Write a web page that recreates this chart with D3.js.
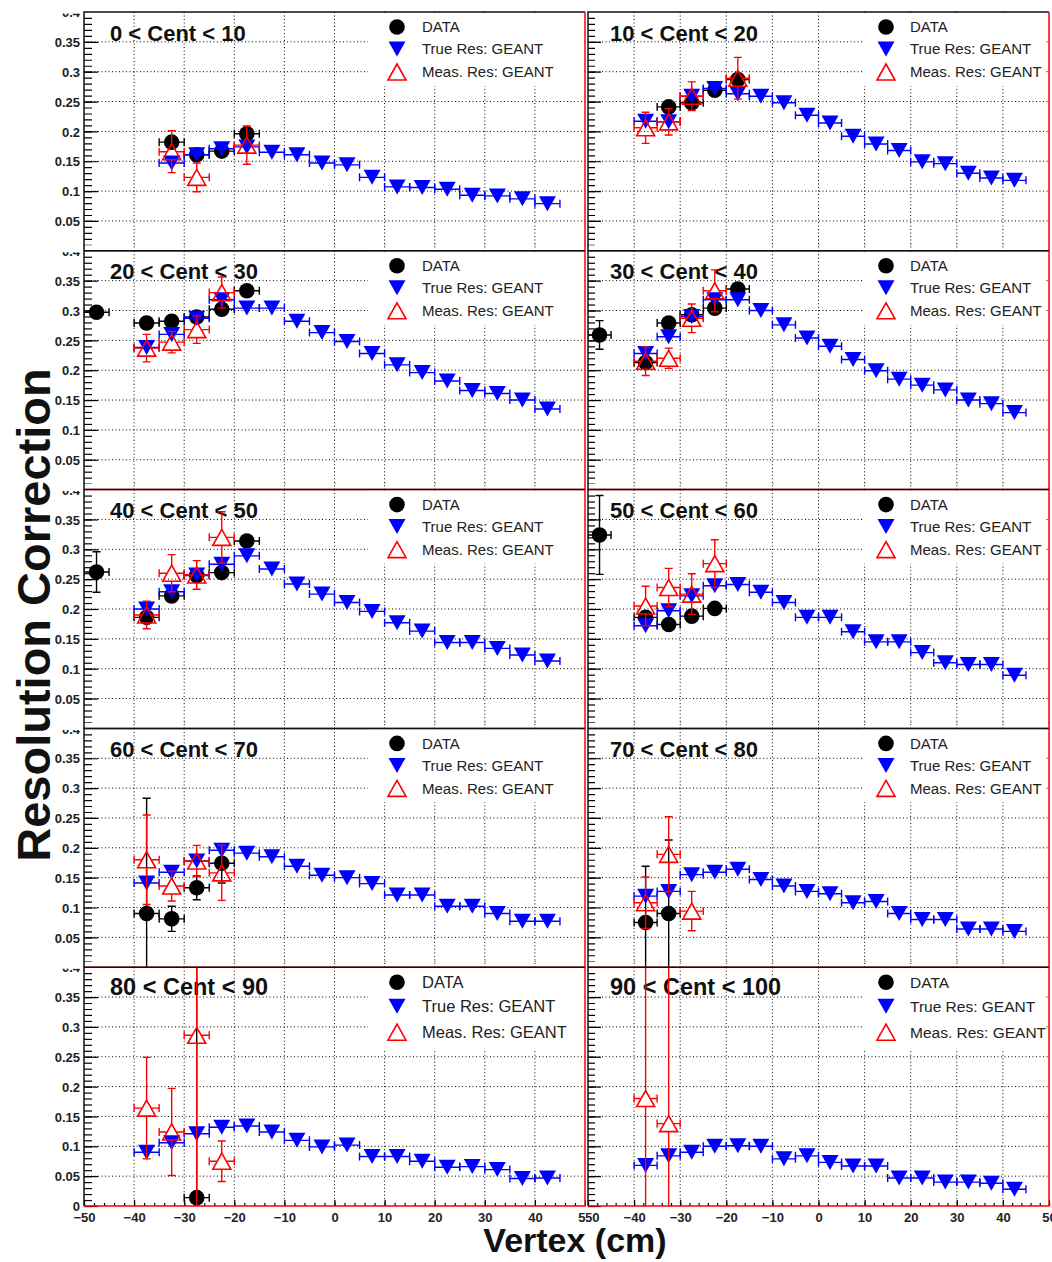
<!DOCTYPE html>
<html>
<head>
<meta charset="utf-8">
<script src="https://cdn.jsdelivr.net/npm/d3@7"></script>
<style>
body { margin: 0; background: #fff; }
text { font-family: "Liberation Sans", Arial, Helvetica, sans-serif; }
</style>
</head>
<body>
<div id="canvas"></div>
<script>
// centrality classes, one pad each
var centLabels = ["0 < Cent < 10", "10 < Cent < 20", "20 < Cent < 30", "30 < Cent < 40",
                  "40 < Cent < 50", "50 < Cent < 60", "60 < Cent < 70", "70 < Cent < 80",
                  "80 < Cent < 90", "90 < Cent < 100"];
var legendLabels = ["DATA", "True Res: GEANT", "Meas. Res: GEANT"];

// vertex bins (cm)
var binX  = [-37.5, -32.5, -27.5, -22.5, -17.5, -12.5, -7.5, -2.5, 2.5, 7.5, 12.5, 17.5, 22.5, 27.5, 32.5, 37.5, 42.5];
var dataX = [-47.5, -37.5, -32.5, -27.5, -22.5, -17.5];
var measX = [-37.5, -32.5, -27.5, -22.5, -17.5];
var binHalf = 2.5;

// True Res: GEANT
var trueRes = [
  [null, 0.147, 0.161, 0.171, 0.174, 0.165, 0.161, 0.147, 0.144, 0.123, 0.107, 0.106, 0.103, 0.093, 0.092, 0.087, 0.079],
  [0.217, 0.216, 0.259, 0.272, 0.263, 0.259, 0.248, 0.227, 0.214, 0.192, 0.179, 0.168, 0.149, 0.146, 0.130, 0.122, 0.118],
  [0.238, 0.260, 0.287, 0.318, 0.304, 0.304, 0.282, 0.263, 0.248, 0.228, 0.209, 0.196, 0.182, 0.166, 0.161, 0.150, 0.135],
  [0.228, 0.256, 0.290, 0.318, 0.318, 0.300, 0.276, 0.254, 0.240, 0.218, 0.199, 0.185, 0.175, 0.167, 0.150, 0.144, 0.129],
  [0.200, 0.229, 0.257, 0.275, 0.289, 0.267, 0.242, 0.225, 0.211, 0.196, 0.177, 0.163, 0.144, 0.144, 0.134, 0.123, 0.113],
  [0.172, 0.197, 0.222, 0.239, 0.241, 0.228, 0.211, 0.186, 0.186, 0.162, 0.145, 0.145, 0.127, 0.110, 0.107, 0.107, 0.089],
  [0.141, 0.159, 0.178, 0.196, 0.191, 0.185, 0.169, 0.154, 0.150, 0.140, 0.121, 0.121, 0.102, 0.102, 0.090, 0.077, 0.077],
  [0.119, 0.127, 0.155, 0.159, 0.164, 0.147, 0.136, 0.127, 0.123, 0.108, 0.110, 0.090, 0.080, 0.080, 0.064, 0.064, 0.060],
  [0.090, 0.106, 0.121, 0.132, 0.134, 0.124, 0.110, 0.099, 0.102, 0.083, 0.083, 0.075, 0.065, 0.066, 0.061, 0.046, 0.047],
  [0.068, 0.084, 0.090, 0.100, 0.101, 0.100, 0.079, 0.084, 0.073, 0.067, 0.067, 0.047, 0.047, 0.040, 0.040, 0.038, 0.028]
];

// DATA
var dataRes = [
  [null, null, 0.182, 0.161, 0.167, 0.196],
  [null, null, 0.241, 0.248, 0.269, 0.287],
  [0.297, 0.279, 0.282, 0.289, 0.302, 0.333],
  [0.259, 0.213, 0.279, 0.293, 0.304, 0.336],
  [0.262, 0.186, 0.222, 0.256, 0.261, 0.314],
  [0.324, 0.186, 0.174, 0.188, 0.201, null],
  [null, 0.090, 0.081, 0.133, 0.174, null],
  [null, 0.075, 0.090, null, null, null],
  [null, null, null, 0.014, null, null],
  [null, null, null, null, null, null]
];
var dataErr = [
  [null, null, 0.008, 0.006, 0.006, 0.010],
  [null, null, 0.008, 0.008, 0.008, 0.010],
  [0.010, 0.008, 0.008, 0.008, 0.010, 0.010],
  [0.024, 0.008, 0.008, 0.008, 0.010, 0.010],
  [0.034, 0.008, 0.008, 0.008, 0.008, 0.010],
  [0.066, 0.010, 0.008, 0.008, 0.008, null],
  [null, 0.193, 0.021, 0.020, 0.033, null],
  [null, 0.094, 0.123, null, null, null],
  [null, null, null, 0.400, null, null],
  [null, null, null, null, null, null]
];

// Meas. Res: GEANT
var measRes = [
  [null, 0.166, 0.123, null, 0.177],
  [0.206, 0.216, 0.259, null, 0.289],
  [0.237, 0.247, 0.268, 0.330, null],
  [0.215, 0.220, 0.287, 0.333, null],
  [0.190, 0.260, 0.257, 0.320, null],
  [0.205, 0.236, 0.225, 0.276, null],
  [0.180, 0.136, 0.178, 0.158, null],
  [0.108, 0.189, 0.094, null, null],
  [0.164, 0.124, 0.286, 0.075, null],
  [0.180, 0.138, null, null, null]
];
var measErr = [
  [null, 0.035, 0.024, null, 0.032],
  [0.026, 0.022, 0.024, null, 0.035],
  [0.023, 0.018, 0.023, 0.026, null],
  [0.024, 0.017, 0.024, 0.035, null],
  [0.023, 0.031, 0.024, 0.043, null],
  [0.033, 0.032, 0.034, 0.040, null],
  [0.075, 0.025, 0.026, 0.046, null],
  [0.043, 0.063, 0.033, null, null],
  [0.085, 0.073, 0.300, 0.034, null],
  [0.500, 0.500, null, null, null]
];

// axes
var xMajor = [-50, -40, -30, -20, -10, 0, 10, 20, 30, 40, 50];
var yMajor = [0, 0.05, 0.1, 0.15, 0.2, 0.25, 0.3, 0.35, 0.4];
var xGrid = [-40, -30, -20, -10, 0, 10, 20, 30, 40];
var yGrid = [0.05, 0.1, 0.15, 0.2, 0.25, 0.3, 0.35];

var W = 1052, H = 1262;
var frameTop = 12, rowH = 238.8;
var cols = [
  {x0: 84,  x1: 585, padL: 0,   padR: 586, tickY: 14, tickYm: 8, legBox: 284, legW: 214, legMark: 313, legText: 338, title: 26, legFont: 16.5},
  {x0: 588, x1: 1049, padL: 586, padR: W,  tickY: 13, tickYm: 7, legBox: 274, legW: 184, legMark: 298, legText: 322, title: 22, legFont: 15.5}
];
var blue = "#0000ff", red = "#ff0000";

var svg = d3.select("#canvas").append("svg")
  .attr("width", W).attr("height", H);
var defs = svg.append("defs");

var triDown = "M-8.5,-7.5L8.5,-7.5L0,7.5Z";
var triUp = "M-9,8L9,8L0,-8Z";

function drawMarker(g, kind, px, py) {
  if (kind === 0) {
    g.append("circle").attr("cx", px).attr("cy", py).attr("r", 7.8).attr("fill", "#000");
  } else if (kind === 1) {
    g.append("path").attr("d", triDown).attr("transform", "translate(" + px + "," + py + ")")
      .attr("fill", blue);
  } else {
    g.append("path").attr("d", triUp).attr("transform", "translate(" + px + "," + py + ")")
      .attr("fill", "none").attr("stroke", red).attr("stroke-width", 1.6);
  }
}

// error bars with end caps; gx/gy = gap left round the marker
function errBar(g, x, y, vx, vy, ey, color, gx, gy) {
  var px = x(vx), pL = x(vx - binHalf), pR = x(vx + binHalf), py = y(vy);
  var cap = 4;
  var d = "M" + pL + "," + py + "H" + (px - gx) + "M" + (px + gx) + "," + py + "H" + pR;
  d += "M" + pL + "," + (py - cap) + "V" + (py + cap) + "M" + pR + "," + (py - cap) + "V" + (py + cap);
  if (ey) {
    var pT = y(vy + ey), pB = y(vy - ey);
    if (py - pT > gy) d += "M" + px + "," + pT + "V" + (py - gy) + "M" + (px - cap) + "," + pT + "H" + (px + cap);
    if (pB - py > gy) d += "M" + px + "," + (py + gy) + "V" + pB + "M" + (px - cap) + "," + pB + "H" + (px + cap);
  }
  g.append("path").attr("d", d).attr("stroke", color).attr("stroke-width", 1.4).attr("fill", "none");
}

centLabels.forEach(function(label, i) {
  var row = Math.floor(i / 2), c = cols[i % 2];
  var top = frameTop + row * rowH, bot = top + rowH;
  var last = row === 4;
  var x = d3.scaleLinear().domain([-50, 50]).range([c.x0, c.x1]);
  var y = d3.scaleLinear().domain([0, 0.4]).range([bot, top]);
  var g = svg.append("g");

  defs.append("clipPath").attr("id", "fr" + i).append("rect")
    .attr("x", c.x0).attr("y", top).attr("width", c.x1 - c.x0).attr("height", bot - top);
  // pad area: hides the upper "0" label and most of "0.4" like the overlapping ROOT pads
  defs.append("clipPath").attr("id", "lb" + i).append("rect")
    .attr("x", c.padL).attr("y", top + 1.5).attr("width", c.padR - c.padL)
    .attr("height", last ? H - top : rowH - 7);
  defs.append("clipPath").attr("id", "pd" + i).append("rect")
    .attr("x", c.padL).attr("y", top).attr("width", c.padR - c.padL - 3).attr("height", rowH);

  // dotted grid
  var grid = g.append("g").attr("stroke", "#000").attr("stroke-width", 1)
    .attr("stroke-dasharray", "1,2.5");
  grid.selectAll(".gx").data(xGrid).enter().append("line")
    .attr("x1", function(d) { return x(d); }).attr("x2", function(d) { return x(d); })
    .attr("y1", top).attr("y2", bot);
  grid.selectAll(".gy").data(yGrid).enter().append("line")
    .attr("x1", c.x0).attr("x2", c.x1)
    .attr("y1", function(d) { return y(d); }).attr("y2", function(d) { return y(d); });

  // legend box hides the grid
  var legH = last ? 82 : 73;
  g.append("rect").attr("x", c.x0 + c.legBox).attr("y", top + 1)
    .attr("width", c.legW).attr("height", legH).attr("fill", "#fff");

  // title
  g.append("text").attr("x", c.x0 + c.title).attr("y", top + (last ? 27.5 : 28.5))
    .attr("font-size", last ? 23.5 : 22).attr("font-weight", "bold").attr("fill", "#111")
    .text(label);

  // legend
  var legY = last ? [15, 39, 65] : [15, 37, 60];
  var leg = g.append("g").attr("clip-path", "url(#pd" + i + ")");
  legendLabels.forEach(function(t, k) {
    drawMarker(leg, k, c.x0 + c.legMark, top + legY[k]);
    leg.append("text").attr("x", c.x0 + c.legText).attr("y", top + legY[k]).attr("dy", "0.36em")
      .attr("font-size", last ? c.legFont : 15).attr("fill", "#222").text(t);
  });

  // points
  var pts = g.append("g").attr("clip-path", "url(#fr" + i + ")");
  dataX.forEach(function(vx, k) {
    var v = dataRes[i][k];
    if (v == null) return;
    errBar(pts, x, y, vx, v, dataErr[i][k], "#000", 0, 6);
    drawMarker(pts, 0, x(vx), y(v));
  });
  binX.forEach(function(vx, k) {
    var v = trueRes[i][k];
    if (v == null) return;
    errBar(pts, x, y, vx, v, 0, blue, 0, 7);
    drawMarker(pts, 1, x(vx), y(v));
  });
  measX.forEach(function(vx, k) {
    var v = measRes[i][k];
    if (v == null) return;
    errBar(pts, x, y, vx, v, measErr[i][k], red, 5, 8);
    drawMarker(pts, 2, x(vx), y(v));
  });

  // axes (ticks inside the frame)
  var yMinor = d3.range(0, 41).map(function(d) { return d / 100; });
  var xMinor = d3.range(-50, 51, 2);
  var ax = g.append("g").attr("clip-path", "url(#lb" + i + ")");
  var yA = ax.append("g").attr("transform", "translate(" + c.x0 + ",0)")
    .call(d3.axisLeft(y).tickValues(yMajor).tickSize(-c.tickY).tickPadding(4)
      .tickFormat(i % 2 === 0 ? d3.format("") : function() { return ""; }));
  ax.append("g").attr("transform", "translate(" + c.x0 + ",0)")
    .call(d3.axisLeft(y).tickValues(yMinor).tickSize(-c.tickYm).tickFormat(function() { return ""; }));
  ax.append("g").attr("transform", "translate(0," + bot + ")")
    .call(d3.axisBottom(x).tickValues(xMajor).tickSize(-6).tickPadding(7)
      .tickFormat(last ? d3.format("") : function() { return ""; }));
  ax.append("g").attr("transform", "translate(0," + bot + ")")
    .call(d3.axisBottom(x).tickValues(xMinor).tickSize(-3).tickFormat(function() { return ""; }));
  ax.selectAll(".domain").remove();
  ax.selectAll(".tick line").attr("stroke", "#000").attr("stroke-width", 1.2);
  ax.selectAll(".tick text").attr("font-size", 13).attr("font-weight", "bold")
    .attr("fill", "#222").style("font-family", "'Liberation Sans', Arial, sans-serif");
  if (i % 2 === 0) yA.selectAll(".tick text").attr("dy", "0.36em");

  // frame: black top/left, red right/bottom
  g.append("path").attr("d", "M" + c.x0 + "," + bot + "V" + top + "H" + c.x1)
    .attr("fill", "none").attr("stroke", "#111").attr("stroke-width", 1.5);
  g.append("path").attr("d", "M" + c.x1 + "," + top + "V" + bot + "H" + c.x0)
    .attr("fill", "none").attr("stroke", red).attr("stroke-width", 1.5);
});

// canvas titles
svg.append("text")
  .attr("transform", "translate(50,615) rotate(-90)")
  .attr("text-anchor", "middle").attr("font-size", 47).attr("font-weight", "bold")
  .attr("fill", "#111").text("Resolution Correction");
svg.append("text")
  .attr("x", 575).attr("y", 1252).attr("text-anchor", "middle")
  .attr("font-size", 34).attr("font-weight", "bold").attr("fill", "#111")
  .text("Vertex (cm)");
</script>
</body>
</html>
